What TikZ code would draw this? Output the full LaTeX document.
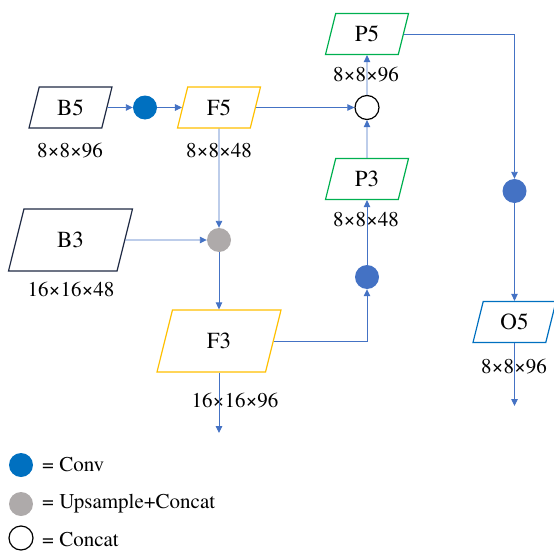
\documentclass[tikz,border=0pt]{standalone}
\usepackage{fontspec}
\setmainfont{texgyretermes-regular.otf}
\usetikzlibrary{arrows.meta,shapes.geometric}
\definecolor{LinkBlue}{HTML}{4472C4}
\definecolor{ConvBlue}{HTML}{0070C0}
\definecolor{BackNavy}{HTML}{1F2A44}
\definecolor{FuseGold}{HTML}{FFC000}
\definecolor{PyrGreen}{HTML}{00B050}
\definecolor{UpGray}{HTML}{AEAAAA}

\begin{document}
\begin{tikzpicture}[x=1pt,y=-1pt,>={Triangle[length=7pt,width=6.5pt]},
  feat/.style={trapezium,trapezium left angle=76,trapezium right angle=104,
    trapezium stretches body,draw,line width=1.2pt,fill=white,
    text height=15pt,text depth=0pt,inner xsep=0pt,inner ysep=13pt,
    minimum width=83pt,font=\rmfamily\fontsize{23}{27}\selectfont},
  bigfeat/.style={feat,inner ysep=23.5pt,minimum width=124pt},
  dims/.style={inner sep=0pt,font=\rmfamily\fontsize{21}{25}\selectfont},
  op/.style={circle,minimum size=24pt,inner sep=0pt},
  conv/.style={op,fill=LinkBlue},
  link/.style={->,LinkBlue,line width=0.9pt}]

% Canvas: 1 unit = 1 px, y grows downward
\useasboundingbox (0,0) rectangle (554,551);

% ---- BACKBONE ----
\node[feat,draw=BackNavy] (B5) at (70.5,107.5) {B5};
\node[bigfeat,draw=BackNavy] (B3) at (70.5,240) {B3};
\node[dims] (B5dim) at (70,151) {8×8×96};
\node[dims] (B3dim) at (71,289) {16×16×48};

% ---- TOP-DOWN FUSION ----
\node[conv,fill=ConvBlue] (convA) at (145,107.5) {};
\node[feat,draw=FuseGold] (F5) at (219,107.5) {F5};
\node[op,fill=UpGray] (up) at (219,240) {};
\node[bigfeat,draw=FuseGold] (F3) at (219,341) {F3};
\node[dims] (F5dim) at (219,151) {8×8×48};
\node[dims] (F3dim) at (235,401) {16×16×96};
\coordinate (F3out) at (219,433);

% ---- BOTTOM-UP PATH ----
\node[conv] (convB) at (367,277) {};
\node[feat,draw=PyrGreen] (P3) at (367,179) {P3};
\node[op,draw=black,line width=1.2pt] (cat) at (367,107.5) {};
\node[feat,draw=PyrGreen] (P5) at (367,34) {P5};
\node[dims] (P3dim) at (366,220) {8×8×48};
\node[dims] (P5dim) at (366,75) {8×8×96};

% ---- OUTPUT HEAD ----
\node[conv] (convC) at (514.5,191) {};
\node[feat,draw=ConvBlue] (O5) at (514.5,322) {O5};
\node[dims] (O5dim) at (514,367) {8×8×96};
\coordinate (O5out) at (514.5,406);

% ---- CONNECTORS ----
\draw[link] (B5) -- (convA);
\draw[link] (convA) -- (F5);
\draw[link] (F5) -- (up);
\draw[link] (B3) -- (up);
\draw[link] (up) -- (F3);
\draw[link] (F3) -- (F3out);
\draw[link] (F3.east) -| (convB);
\draw[link] (convB) -- (P3);
\draw[link] (P3) -- (cat);
\draw[link] (F5) -- (cat);
\draw[link] (cat) -- (P5);
\draw[link] (P5.east) -| (convC);
\draw[link] (convC) -- (O5);
\draw[link] (O5) -- (O5out);

% ---- LEGEND ----
\node[op,fill=ConvBlue] (keyConv) at (21,465) {};
\node[op,fill=UpGray] (keyUp) at (21,504) {};
\node[op,draw=black,line width=1.2pt] (keyCat) at (21,538) {};
\node[dims,anchor=west] at (42,465) {= Conv};
\node[dims,anchor=west] at (42,504) {= Upsample+Concat};
\node[dims,anchor=west] at (42,540) {= Concat};

\end{tikzpicture}
\end{document}
